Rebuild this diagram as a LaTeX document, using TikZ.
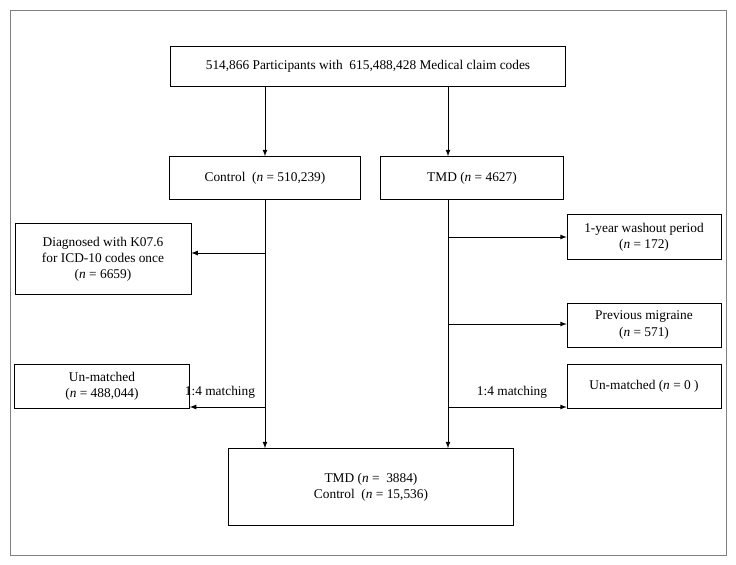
\documentclass[tikz,border=0pt]{standalone}
\usepackage{fontspec}
\setmainfont{Liberation Serif}
\usetikzlibrary{calc}
\newcommand{\nn}{\textit{n}}

\begin{document}
\begin{tikzpicture}[x=0.025cm,y=-0.025cm,>=latex,
  box/.style={
    align=center,
    rectangle,
    draw,
    font=\fontsize{9.5}{11.5}\selectfont,
    inner sep=2pt
  },
  arrow/.style={
    ->,
    semithick
  },
  lbl/.style={
    font=\fontsize{9.5}{11.5}\selectfont
  }
  ]

  \useasboundingbox (0,0) rectangle (736,565);
  \draw [gray] (10,10) rectangle (726,555);

  \node [box, minimum width=395*0.025cm, minimum height=40*0.025cm] (all) at (368,66)
  {514,866 Participants with\ \ 615,488,428 Medical claim codes};

  \node [box, minimum width=191*0.025cm, minimum height=43*0.025cm] (control) at (265,178)
  {Control\ \ (\nn{} = 510,239)};
  \node [box, minimum width=183*0.025cm, minimum height=43*0.025cm] (tmd) at (472,178)
  {TMD (\nn{} = 4627)};

  \node [box, minimum width=176*0.025cm, minimum height=71*0.025cm] (diag) at (103,259)
  {Diagnosed with K07.6\\for ICD-10 codes once\\(\nn{} = 6659)};
  \node [box, minimum width=154*0.025cm, minimum height=45*0.025cm] (washout) at (644,237)
  {1-year washout period\\(\nn{} = 172)};
  \node [box, minimum width=154*0.025cm, minimum height=44*0.025cm] (migraine) at (644,325)
  {Previous migraine\\(\nn{} = 571)};
  \node [box, minimum width=175*0.025cm, minimum height=44*0.025cm] (unleft) at (102,386)
  {Un-matched\\(\nn{} = 488,044)};
  \node [box, minimum width=154*0.025cm, minimum height=44*0.025cm] (unright) at (644,386)
  {Un-matched (\nn{} = 0 )};

  \node [box, minimum width=285*0.025cm, minimum height=77*0.025cm] (final) at (371,487)
  {TMD (\nn{} =\ \ 3884)\\Control\ \ (\nn{} = 15,536)};

  % branch points
  \coordinate (cl) at (265,253);
  \coordinate (cm) at (265,407);
  \coordinate (tw) at (448,237);
  \coordinate (tm) at (448,324);
  \coordinate (tu) at (448,407);

  \draw [arrow] (all.south -| control) -- (control);
  \draw [arrow] (all.south -| tu) -- (tmd.north -| tu);

  \draw [arrow] (control) -- (control |- final.north);
  \draw [arrow] (tmd.south -| tu) -- (final.north -| tu);

  \draw [arrow] (cl) -- (cl -| diag.east);
  \draw [arrow] (cm) -- (cm -| unleft.east);
  \draw [arrow] (tw) -- (tw -| washout.west);
  \draw [arrow] (tm) -- (tm -| migraine.west);
  \draw [arrow] (tu) -- (tu -| unright.west);

  \node [lbl, anchor=south east] (ml) at (260,403) {1:4 matching};
  \node [lbl, anchor=south] (mr) at (512,403) {1:4 matching};

\end{tikzpicture}
\end{document}
